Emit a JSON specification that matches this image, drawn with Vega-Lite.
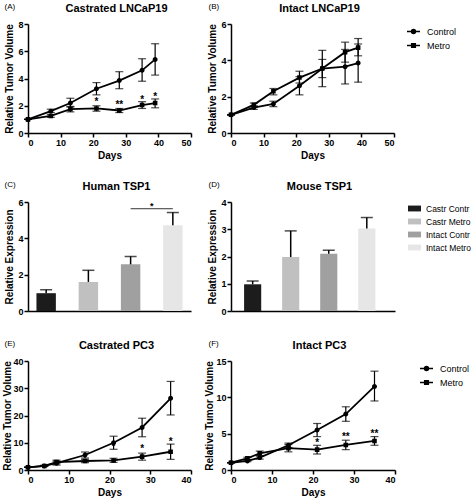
{
  "$schema": "https://vega.github.io/schema/vega-lite/v6.json",
  "padding": {"left": 2, "top": 2, "right": 0, "bottom": 2},
  "datasets": {
    "growth": [
      {"panel": "A", "group": "Control", "day": 0, "value": 1, "lo": 1, "hi": 1},
      {"panel": "A", "group": "Control", "day": 7, "value": 1.6, "lo": 1.5, "hi": 1.75},
      {"panel": "A", "group": "Control", "day": 13, "value": 2.2, "lo": 1.9, "hi": 2.55},
      {"panel": "A", "group": "Control", "day": 21, "value": 3.25, "lo": 2.8, "hi": 3.7},
      {"panel": "A", "group": "Control", "day": 28, "value": 3.85, "lo": 3.25, "hi": 4.5},
      {"panel": "A", "group": "Control", "day": 35, "value": 4.6, "lo": 3.8, "hi": 5.45},
      {"panel": "A", "group": "Control", "day": 39, "value": 5.4, "lo": 4.25, "hi": 6.55},
      {"panel": "A", "group": "Metro", "day": 0, "value": 1, "lo": 1, "hi": 1},
      {"panel": "A", "group": "Metro", "day": 7, "value": 1.25, "lo": 1.15, "hi": 1.35},
      {"panel": "A", "group": "Metro", "day": 13, "value": 1.75, "lo": 1.55, "hi": 1.95},
      {"panel": "A", "group": "Metro", "day": 21, "value": 1.8, "lo": 1.6, "hi": 2.0},
      {"panel": "A", "group": "Metro", "day": 28, "value": 1.65, "lo": 1.5, "hi": 1.8},
      {"panel": "A", "group": "Metro", "day": 35, "value": 2.05, "lo": 1.8, "hi": 2.3},
      {"panel": "A", "group": "Metro", "day": 39, "value": 2.2, "lo": 1.85, "hi": 2.5},
      {"panel": "B", "group": "Control", "day": 0, "value": 1, "lo": 1, "hi": 1},
      {"panel": "B", "group": "Control", "day": 7, "value": 1.4, "lo": 1.3, "hi": 1.5},
      {"panel": "B", "group": "Control", "day": 13, "value": 1.6, "lo": 1.45, "hi": 1.75},
      {"panel": "B", "group": "Control", "day": 21, "value": 2.6, "lo": 2.1, "hi": 3.1},
      {"panel": "B", "group": "Control", "day": 28, "value": 3.55, "lo": 2.55, "hi": 4.55},
      {"panel": "B", "group": "Control", "day": 35, "value": 3.65, "lo": 2.7, "hi": 4.6},
      {"panel": "B", "group": "Control", "day": 39, "value": 3.85, "lo": 2.8, "hi": 4.9},
      {"panel": "B", "group": "Metro", "day": 0, "value": 1, "lo": 1, "hi": 1},
      {"panel": "B", "group": "Metro", "day": 7, "value": 1.55, "lo": 1.45, "hi": 1.65},
      {"panel": "B", "group": "Metro", "day": 13, "value": 2.3, "lo": 2.1, "hi": 2.45},
      {"panel": "B", "group": "Metro", "day": 21, "value": 3.05, "lo": 2.75, "hi": 3.4},
      {"panel": "B", "group": "Metro", "day": 28, "value": 3.55, "lo": 3.05, "hi": 4.05},
      {"panel": "B", "group": "Metro", "day": 35, "value": 4.45, "lo": 3.9, "hi": 5.0},
      {"panel": "B", "group": "Metro", "day": 39, "value": 4.7, "lo": 4.25, "hi": 5.2},
      {"panel": "E", "group": "Control", "day": 0, "value": 1, "lo": 1, "hi": 1},
      {"panel": "E", "group": "Control", "day": 4, "value": 1.5, "lo": 1.3, "hi": 1.7},
      {"panel": "E", "group": "Control", "day": 7, "value": 2.5, "lo": 1.8, "hi": 3.2},
      {"panel": "E", "group": "Control", "day": 14, "value": 5.5, "lo": 4.4, "hi": 6.6},
      {"panel": "E", "group": "Control", "day": 21, "value": 10, "lo": 7.6, "hi": 12.4},
      {"panel": "E", "group": "Control", "day": 28, "value": 15.6, "lo": 12.2, "hi": 19},
      {"panel": "E", "group": "Control", "day": 35, "value": 26.3, "lo": 20.2, "hi": 32.5},
      {"panel": "E", "group": "Metro", "day": 0, "value": 1, "lo": 1, "hi": 1},
      {"panel": "E", "group": "Metro", "day": 4, "value": 1.5, "lo": 1.3, "hi": 1.7},
      {"panel": "E", "group": "Metro", "day": 7, "value": 2.9, "lo": 2.3, "hi": 3.6},
      {"panel": "E", "group": "Metro", "day": 14, "value": 3.3, "lo": 2.7, "hi": 3.9},
      {"panel": "E", "group": "Metro", "day": 21, "value": 3.5, "lo": 2.8, "hi": 4.3},
      {"panel": "E", "group": "Metro", "day": 28, "value": 4.9, "lo": 3.6, "hi": 6.2},
      {"panel": "E", "group": "Metro", "day": 35, "value": 6.7, "lo": 3.9, "hi": 9.5},
      {"panel": "F", "group": "Control", "day": 0, "value": 1, "lo": 1, "hi": 1},
      {"panel": "F", "group": "Control", "day": 4, "value": 1.25, "lo": 1.15, "hi": 1.35},
      {"panel": "F", "group": "Control", "day": 7, "value": 1.7, "lo": 1.5, "hi": 1.9},
      {"panel": "F", "group": "Control", "day": 14, "value": 3.4, "lo": 3.1, "hi": 3.7},
      {"panel": "F", "group": "Control", "day": 21, "value": 5.5, "lo": 4.6, "hi": 6.4},
      {"panel": "F", "group": "Control", "day": 28, "value": 7.7, "lo": 6.7, "hi": 8.7},
      {"panel": "F", "group": "Control", "day": 35, "value": 11.5, "lo": 9.5, "hi": 13.6},
      {"panel": "F", "group": "Metro", "day": 0, "value": 1, "lo": 1, "hi": 1},
      {"panel": "F", "group": "Metro", "day": 4, "value": 1.6, "lo": 1.45, "hi": 1.75},
      {"panel": "F", "group": "Metro", "day": 7, "value": 2.3, "lo": 2.0, "hi": 2.6},
      {"panel": "F", "group": "Metro", "day": 14, "value": 3.0, "lo": 2.5, "hi": 3.5},
      {"panel": "F", "group": "Metro", "day": 21, "value": 2.8, "lo": 2.2, "hi": 3.4},
      {"panel": "F", "group": "Metro", "day": 28, "value": 3.45, "lo": 2.8, "hi": 4.1},
      {"panel": "F", "group": "Metro", "day": 35, "value": 4.0, "lo": 3.4, "hi": 4.6}
    ],
    "stars": [
      {"panel": "A", "day": 21, "y": 2.25, "label": "*"},
      {"panel": "A", "day": 28, "y": 2.05, "label": "**"},
      {"panel": "A", "day": 35, "y": 2.45, "label": "*"},
      {"panel": "A", "day": 39, "y": 2.65, "label": "*"},
      {"panel": "E", "day": 21, "y": 8.6, "label": "*"},
      {"panel": "E", "day": 28, "y": 7.6, "label": "*"},
      {"panel": "E", "day": 35, "y": 10.4, "label": "*"},
      {"panel": "F", "day": 21, "y": 3.7, "label": "*"},
      {"panel": "F", "day": 28, "y": 4.5, "label": "**"},
      {"panel": "F", "day": 35, "y": 5.0, "label": "**"}
    ],
    "bars": [
      {"panel": "C", "group": "Castr Contr", "value": 0.98, "hi": 1.17},
      {"panel": "C", "group": "Castr Metro", "value": 1.6, "hi": 2.24},
      {"panel": "C", "group": "Intact Contr", "value": 2.57, "hi": 3.0},
      {"panel": "C", "group": "Intact Metro", "value": 4.72, "hi": 5.42},
      {"panel": "D", "group": "Castr Contr", "value": 0.98, "hi": 1.1},
      {"panel": "D", "group": "Castr Metro", "value": 1.98, "hi": 2.94},
      {"panel": "D", "group": "Intact Contr", "value": 2.1, "hi": 2.23},
      {"panel": "D", "group": "Intact Metro", "value": 3.03, "hi": 3.43}
    ],
    "sig": [
      {"from": "Intact Contr", "to": "Intact Metro", "y": 5.63, "ystar": 5.8, "label": "*"}
    ]
  },
  "columns": 2,
  "bounds": "flush",
  "spacing": {"row": 0, "column": 40},
  "concat": [
    {
      "width": 163, "height": 109,
      "data": {"name": "growth"},
      "transform": [{"filter": "datum.panel === 'A'"}],
      "layer": [
        {"mark": {"type": "line", "color": "black", "strokeWidth": 1.8},
         "encoding": {
           "x": {"field": "day", "type": "quantitative", "scale": {"domain": [0, 50], "nice": false}, "axis": {"title": "Days", "values": [0, 10, 20, 30, 40, 50]}},
           "y": {"field": "value", "type": "quantitative", "scale": {"domain": [0, 8], "nice": false}, "axis": {"title": "Relative Tumor Volume", "values": [0, 2, 4, 6, 8]}},
           "detail": {"field": "group"}}},
        {"mark": {"type": "rule", "color": "black", "strokeWidth": 1.2},
         "encoding": {
           "x": {"field": "day", "type": "quantitative", "axis": {"orient": "top", "title": "Castrated LNCaP19", "domain": false, "ticks": false, "labels": false, "titleX": 88, "titleY": -16, "titleAlign": "center", "titleBaseline": "middle", "titleFontSize": 11}},
           "y": {"field": "lo", "type": "quantitative", "axis": null}, "y2": {"field": "hi"}}},
        {"mark": {"type": "tick", "color": "black", "orient": "horizontal", "size": 8, "thickness": 1.2},
         "encoding": {"x": {"field": "day", "type": "quantitative", "axis": null}, "y": {"field": "lo", "type": "quantitative", "axis": null}}},
        {"mark": {"type": "tick", "color": "black", "orient": "horizontal", "size": 8, "thickness": 1.2},
         "encoding": {"x": {"field": "day", "type": "quantitative", "axis": null}, "y": {"field": "hi", "type": "quantitative", "axis": null}}},
        {"mark": {"type": "point", "filled": true, "color": "black", "size": 170, "opacity": 1},
         "encoding": {
           "x": {"field": "day", "type": "quantitative", "axis": {"orient": "top", "title": "(A)", "domain": false, "ticks": false, "labels": false, "titleX": -24, "titleY": -18, "titleAlign": "left", "titleBaseline": "middle", "titleFontWeight": "normal", "titleFontSize": 8}},
           "y": {"field": "value", "type": "quantitative", "axis": null},
           "shape": {"field": "group", "type": "nominal", "scale": {"domain": ["Control", "Metro"], "range": ["M-1,0H1M-0.38,0A0.38,0.38,0,1,0,0.38,0A0.38,0.38,0,1,0,-0.38,0Z", "M-1,0H1M-0.35,-0.35H0.35V0.35H-0.35Z"]}, "legend": null}}},
        {"data": {"name": "stars"}, "transform": [{"filter": "datum.panel === 'A'"}],
         "mark": {"type": "text", "color": "black", "fontSize": 10, "fontWeight": "bold", "baseline": "middle", "font": "Liberation Sans"},
         "encoding": {"x": {"field": "day", "type": "quantitative", "axis": null}, "y": {"field": "y", "type": "quantitative", "axis": null}, "text": {"field": "label"}}}
      ],
      "resolve": {"axis": {"x": "independent", "y": "independent"}}
    },
    {
      "width": 163, "height": 109,
      "data": {"name": "growth"},
      "transform": [{"filter": "datum.panel === 'B'"}],
      "layer": [
        {"mark": {"type": "line", "color": "black", "strokeWidth": 1.8},
         "encoding": {
           "x": {"field": "day", "type": "quantitative", "scale": {"domain": [0, 50], "nice": false}, "axis": {"title": "Days", "values": [0, 10, 20, 30, 40, 50]}},
           "y": {"field": "value", "type": "quantitative", "scale": {"domain": [0, 6], "nice": false}, "axis": {"title": "Relative Tumor Volume", "values": [0, 2, 4, 6]}},
           "detail": {"field": "group"}}},
        {"mark": {"type": "rule", "color": "black", "strokeWidth": 1.2},
         "encoding": {
           "x": {"field": "day", "type": "quantitative", "axis": {"orient": "top", "title": "Intact LNCaP19", "domain": false, "ticks": false, "labels": false, "titleX": 88, "titleY": -16, "titleAlign": "center", "titleBaseline": "middle", "titleFontSize": 11}},
           "y": {"field": "lo", "type": "quantitative", "axis": null}, "y2": {"field": "hi"}}},
        {"mark": {"type": "tick", "color": "black", "orient": "horizontal", "size": 8, "thickness": 1.2},
         "encoding": {"x": {"field": "day", "type": "quantitative", "axis": null}, "y": {"field": "lo", "type": "quantitative", "axis": null}}},
        {"mark": {"type": "tick", "color": "black", "orient": "horizontal", "size": 8, "thickness": 1.2},
         "encoding": {"x": {"field": "day", "type": "quantitative", "axis": null}, "y": {"field": "hi", "type": "quantitative", "axis": null}}},
        {"mark": {"type": "point", "filled": true, "color": "black", "size": 170, "opacity": 1},
         "encoding": {
           "x": {"field": "day", "type": "quantitative", "axis": {"orient": "top", "title": "(B)", "domain": false, "ticks": false, "labels": false, "titleX": -23, "titleY": -18, "titleAlign": "left", "titleBaseline": "middle", "titleFontWeight": "normal", "titleFontSize": 8}},
           "y": {"field": "value", "type": "quantitative", "axis": null},
           "shape": {"field": "group", "type": "nominal", "scale": {"domain": ["Control", "Metro"], "range": ["M-1,0H1M-0.38,0A0.38,0.38,0,1,0,0.38,0A0.38,0.38,0,1,0,-0.38,0Z", "M-1,0H1M-0.35,-0.35H0.35V0.35H-0.35Z"]}, "legend": null}}},
        {"data": {"values": []},
         "mark": {"type": "point", "filled": false, "color": "black", "strokeWidth": 1.5, "opacity": 1},
         "encoding": {
           "x": {"field": "day", "type": "quantitative", "axis": null},
           "y": {"field": "value", "type": "quantitative", "axis": null},
           "shape": {"field": "group", "type": "nominal", "scale": {"domain": ["Control", "Metro"], "range": ["M-1,0H1M-0.3,0A0.3,0.3,0,1,0,0.3,0A0.3,0.3,0,1,0,-0.3,0M-0.12,0A0.12,0.12,0,1,0,0.12,0A0.12,0.12,0,1,0,-0.12,0", "M-1,0H1M-0.28,-0.28H0.28V0.28H-0.28ZM-0.1,-0.1H0.1V0.1H-0.1Z"]},
             "legend": {"title": null, "orient": "right", "offset": 12, "symbolSize": 169, "symbolStrokeWidth": 1.5, "symbolStrokeColor": "black", "symbolFillColor": "black", "labelOffset": 6, "rowPadding": 1, "labelFontSize": 9}}}}
      ],
      "resolve": {"axis": {"x": "independent", "y": "independent"}, "scale": {"shape": "independent"}}
    },
    {"width": 10, "height": 69, "data": {"values": []}, "mark": "point"},
    {"width": 10, "height": 69, "data": {"values": []}, "mark": "point"},
    {
      "width": 163, "height": 109,
      "data": {"name": "bars"},
      "transform": [{"filter": "datum.panel === 'C'"}],
      "layer": [
        {"mark": {"type": "bar"},
         "encoding": {
           "x": {"field": "group", "type": "nominal", "scale": {"domain": ["Castr Contr", "Castr Metro", "Intact Contr", "Intact Metro"], "paddingInner": 0.54, "paddingOuter": 0.2}, "axis": {"title": null, "labels": false, "ticks": false}},
           "y": {"field": "value", "type": "quantitative", "scale": {"domain": [0, 6], "nice": false}, "axis": {"title": "Relative Expression", "values": [0, 2, 4, 6]}},
           "color": {"field": "group", "type": "nominal", "scale": {"domain": ["Castr Contr", "Castr Metro", "Intact Contr", "Intact Metro"], "range": ["#1c1c1c", "#c0c0c0", "#a0a0a0", "#e6e6e6"]}, "legend": null}}},
        {"mark": {"type": "rule", "color": "black", "strokeWidth": 1.5},
         "encoding": {
           "x": {"field": "group", "type": "nominal", "axis": {"orient": "top", "title": "(C)", "domain": false, "ticks": false, "labels": false, "titleX": -24, "titleY": -18, "titleAlign": "left", "titleBaseline": "middle", "titleFontWeight": "normal", "titleFontSize": 8}},
           "y": {"field": "value", "type": "quantitative", "axis": null}, "y2": {"field": "hi"}}},
        {"mark": {"type": "tick", "color": "black", "size": 12, "thickness": 1.5},
         "encoding": {
           "x": {"field": "group", "type": "nominal", "axis": {"orient": "top", "title": "Human TSP1", "domain": false, "ticks": false, "labels": false, "titleX": 88, "titleY": -16, "titleAlign": "center", "titleBaseline": "middle", "titleFontSize": 11}},
           "y": {"field": "hi", "type": "quantitative", "axis": null}}},
        {"data": {"name": "sig"},
         "mark": {"type": "rule", "color": "black", "strokeWidth": 0.8},
         "encoding": {"x": {"field": "from", "type": "nominal", "axis": null}, "x2": {"field": "to"}, "y": {"field": "y", "type": "quantitative", "axis": null}}},
        {"data": {"name": "sig"},
         "mark": {"type": "text", "color": "black", "fontSize": 9, "fontWeight": "bold", "baseline": "middle", "font": "Liberation Sans"},
         "encoding": {"x": {"field": "from", "type": "nominal", "bandPosition": 1.59, "axis": null}, "y": {"field": "ystar", "type": "quantitative", "axis": null}, "text": {"field": "label"}}}
      ],
      "resolve": {"axis": {"x": "independent", "y": "independent"}}
    },
    {
      "width": 164, "height": 109,
      "data": {"name": "bars"},
      "transform": [{"filter": "datum.panel === 'D'"}],
      "layer": [
        {"mark": {"type": "bar"},
         "encoding": {
           "x": {"field": "group", "type": "nominal", "scale": {"domain": ["Castr Contr", "Castr Metro", "Intact Contr", "Intact Metro"], "paddingInner": 0.55, "paddingOuter": 0.43, "align": 0.4}, "axis": {"title": null, "labels": false, "ticks": false}},
           "y": {"field": "value", "type": "quantitative", "scale": {"domain": [0, 4], "nice": false}, "axis": {"title": "Relative Expression", "values": [0, 1, 2, 3, 4]}},
           "color": {"field": "group", "type": "nominal", "scale": {"domain": ["Castr Contr", "Castr Metro", "Intact Contr", "Intact Metro"], "range": ["#1c1c1c", "#c0c0c0", "#a0a0a0", "#e6e6e6"]},
             "legend": {"title": null, "orient": "right", "offset": 13, "symbolType": "M-1,-0.45H1V0.45H-1Z", "symbolSize": 169, "symbolStrokeWidth": 0, "labelOffset": 5, "rowPadding": 2, "labelFontSize": 8.5}}}},
        {"mark": {"type": "rule", "color": "black", "strokeWidth": 1.5},
         "encoding": {
           "x": {"field": "group", "type": "nominal", "axis": {"orient": "top", "title": "(D)", "domain": false, "ticks": false, "labels": false, "titleX": -23, "titleY": -18, "titleAlign": "left", "titleBaseline": "middle", "titleFontWeight": "normal", "titleFontSize": 8}},
           "y": {"field": "value", "type": "quantitative", "axis": null}, "y2": {"field": "hi"}}},
        {"mark": {"type": "tick", "color": "black", "size": 12, "thickness": 1.5},
         "encoding": {
           "x": {"field": "group", "type": "nominal", "axis": {"orient": "top", "title": "Mouse TSP1", "domain": false, "ticks": false, "labels": false, "titleX": 88, "titleY": -16, "titleAlign": "center", "titleBaseline": "middle", "titleFontSize": 11}},
           "y": {"field": "hi", "type": "quantitative", "axis": null}}}
      ],
      "resolve": {"axis": {"x": "independent", "y": "independent"}}
    },
    {"width": 10, "height": 50, "data": {"values": []}, "mark": "point"},
    {"width": 10, "height": 50, "data": {"values": []}, "mark": "point"},
    {
      "width": 163, "height": 109,
      "data": {"name": "growth"},
      "transform": [{"filter": "datum.panel === 'E'"}],
      "layer": [
        {"mark": {"type": "line", "color": "black", "strokeWidth": 1.8},
         "encoding": {
           "x": {"field": "day", "type": "quantitative", "scale": {"domain": [0, 40], "nice": false}, "axis": {"title": "Days", "values": [0, 10, 20, 30, 40]}},
           "y": {"field": "value", "type": "quantitative", "scale": {"domain": [0, 40], "nice": false}, "axis": {"title": "Relative Tumor Volume", "values": [0, 10, 20, 30, 40], "titlePadding": 0.5}},
           "detail": {"field": "group"}}},
        {"mark": {"type": "rule", "color": "black", "strokeWidth": 1.2},
         "encoding": {
           "x": {"field": "day", "type": "quantitative", "axis": {"orient": "top", "title": "Castrated PC3", "domain": false, "ticks": false, "labels": false, "titleX": 88, "titleY": -16, "titleAlign": "center", "titleBaseline": "middle", "titleFontSize": 11}},
           "y": {"field": "lo", "type": "quantitative", "axis": null}, "y2": {"field": "hi"}}},
        {"mark": {"type": "tick", "color": "black", "orient": "horizontal", "size": 8, "thickness": 1.2},
         "encoding": {"x": {"field": "day", "type": "quantitative", "axis": null}, "y": {"field": "lo", "type": "quantitative", "axis": null}}},
        {"mark": {"type": "tick", "color": "black", "orient": "horizontal", "size": 8, "thickness": 1.2},
         "encoding": {"x": {"field": "day", "type": "quantitative", "axis": null}, "y": {"field": "hi", "type": "quantitative", "axis": null}}},
        {"mark": {"type": "point", "filled": true, "color": "black", "size": 170, "opacity": 1},
         "encoding": {
           "x": {"field": "day", "type": "quantitative", "axis": {"orient": "top", "title": "(E)", "domain": false, "ticks": false, "labels": false, "titleX": -24, "titleY": -18, "titleAlign": "left", "titleBaseline": "middle", "titleFontWeight": "normal", "titleFontSize": 8}},
           "y": {"field": "value", "type": "quantitative", "axis": null},
           "shape": {"field": "group", "type": "nominal", "scale": {"domain": ["Control", "Metro"], "range": ["M-1,0H1M-0.38,0A0.38,0.38,0,1,0,0.38,0A0.38,0.38,0,1,0,-0.38,0Z", "M-1,0H1M-0.35,-0.35H0.35V0.35H-0.35Z"]}, "legend": null}}},
        {"data": {"name": "stars"}, "transform": [{"filter": "datum.panel === 'E'"}],
         "mark": {"type": "text", "color": "black", "fontSize": 10, "fontWeight": "bold", "baseline": "middle", "font": "Liberation Sans"},
         "encoding": {"x": {"field": "day", "type": "quantitative", "axis": null}, "y": {"field": "y", "type": "quantitative", "axis": null}, "text": {"field": "label"}}}
      ],
      "resolve": {"axis": {"x": "independent", "y": "independent"}}
    },
    {
      "width": 164, "height": 109,
      "data": {"name": "growth"},
      "transform": [{"filter": "datum.panel === 'F'"}],
      "layer": [
        {"mark": {"type": "line", "color": "black", "strokeWidth": 1.8},
         "encoding": {
           "x": {"field": "day", "type": "quantitative", "scale": {"domain": [0, 40], "nice": false}, "axis": {"title": "Days", "values": [0, 10, 20, 30, 40]}},
           "y": {"field": "value", "type": "quantitative", "scale": {"domain": [0, 15], "nice": false}, "axis": {"title": "Relative Tumor Volume", "values": [0, 5, 10, 15], "titlePadding": 1}},
           "detail": {"field": "group"}}},
        {"mark": {"type": "rule", "color": "black", "strokeWidth": 1.2},
         "encoding": {
           "x": {"field": "day", "type": "quantitative", "axis": {"orient": "top", "title": "Intact PC3", "domain": false, "ticks": false, "labels": false, "titleX": 88, "titleY": -16, "titleAlign": "center", "titleBaseline": "middle", "titleFontSize": 11}},
           "y": {"field": "lo", "type": "quantitative", "axis": null}, "y2": {"field": "hi"}}},
        {"mark": {"type": "tick", "color": "black", "orient": "horizontal", "size": 8, "thickness": 1.2},
         "encoding": {"x": {"field": "day", "type": "quantitative", "axis": null}, "y": {"field": "lo", "type": "quantitative", "axis": null}}},
        {"mark": {"type": "tick", "color": "black", "orient": "horizontal", "size": 8, "thickness": 1.2},
         "encoding": {"x": {"field": "day", "type": "quantitative", "axis": null}, "y": {"field": "hi", "type": "quantitative", "axis": null}}},
        {"mark": {"type": "point", "filled": true, "color": "black", "size": 170, "opacity": 1},
         "encoding": {
           "x": {"field": "day", "type": "quantitative", "axis": {"orient": "top", "title": "(F)", "domain": false, "ticks": false, "labels": false, "titleX": -23, "titleY": -18, "titleAlign": "left", "titleBaseline": "middle", "titleFontWeight": "normal", "titleFontSize": 8}},
           "y": {"field": "value", "type": "quantitative", "axis": null},
           "shape": {"field": "group", "type": "nominal", "scale": {"domain": ["Control", "Metro"], "range": ["M-1,0H1M-0.38,0A0.38,0.38,0,1,0,0.38,0A0.38,0.38,0,1,0,-0.38,0Z", "M-1,0H1M-0.35,-0.35H0.35V0.35H-0.35Z"]}, "legend": null}}},
        {"data": {"name": "stars"}, "transform": [{"filter": "datum.panel === 'F'"}],
         "mark": {"type": "text", "color": "black", "fontSize": 10, "fontWeight": "bold", "baseline": "middle", "font": "Liberation Sans"},
         "encoding": {"x": {"field": "day", "type": "quantitative", "axis": null}, "y": {"field": "y", "type": "quantitative", "axis": null}, "text": {"field": "label"}}},
        {"data": {"values": []},
         "mark": {"type": "point", "filled": false, "color": "black", "strokeWidth": 1.5, "opacity": 1},
         "encoding": {
           "x": {"field": "day", "type": "quantitative", "axis": null},
           "y": {"field": "value", "type": "quantitative", "axis": null},
           "shape": {"field": "group", "type": "nominal", "scale": {"domain": ["Control", "Metro"], "range": ["M-1,0H1M-0.3,0A0.3,0.3,0,1,0,0.3,0A0.3,0.3,0,1,0,-0.3,0M-0.12,0A0.12,0.12,0,1,0,0.12,0A0.12,0.12,0,1,0,-0.12,0", "M-1,0H1M-0.28,-0.28H0.28V0.28H-0.28ZM-0.1,-0.1H0.1V0.1H-0.1Z"]},
             "legend": {"title": null, "orient": "right", "offset": 24, "symbolSize": 169, "symbolStrokeWidth": 1.5, "symbolStrokeColor": "black", "symbolFillColor": "black", "labelOffset": 6, "rowPadding": 1, "labelFontSize": 9}}}}
      ],
      "resolve": {"axis": {"x": "independent", "y": "independent"}, "scale": {"shape": "independent"}}
    }
  ],
  "resolve": {
    "scale": {"x": "independent", "y": "independent", "color": "independent", "shape": "independent"},
    "legend": {"color": "independent", "shape": "independent"}
  },
  "config": {
    "font": "Liberation Sans",
    "view": {"stroke": null},
    "axis": {"domainColor": "black", "domainWidth": 1.5, "tickColor": "black", "tickWidth": 1.5, "tickSize": 4, "labelFontSize": 9, "labelFontWeight": "bold", "labelColor": "black", "labelPadding": 1, "titleFontSize": 10, "titleFontWeight": "bold", "titleColor": "black", "titlePadding": 3, "grid": false},
    "legend": {"labelFontSize": 9, "labelColor": "black", "labelFont": "Liberation Sans", "padding": 0}
  }
}
